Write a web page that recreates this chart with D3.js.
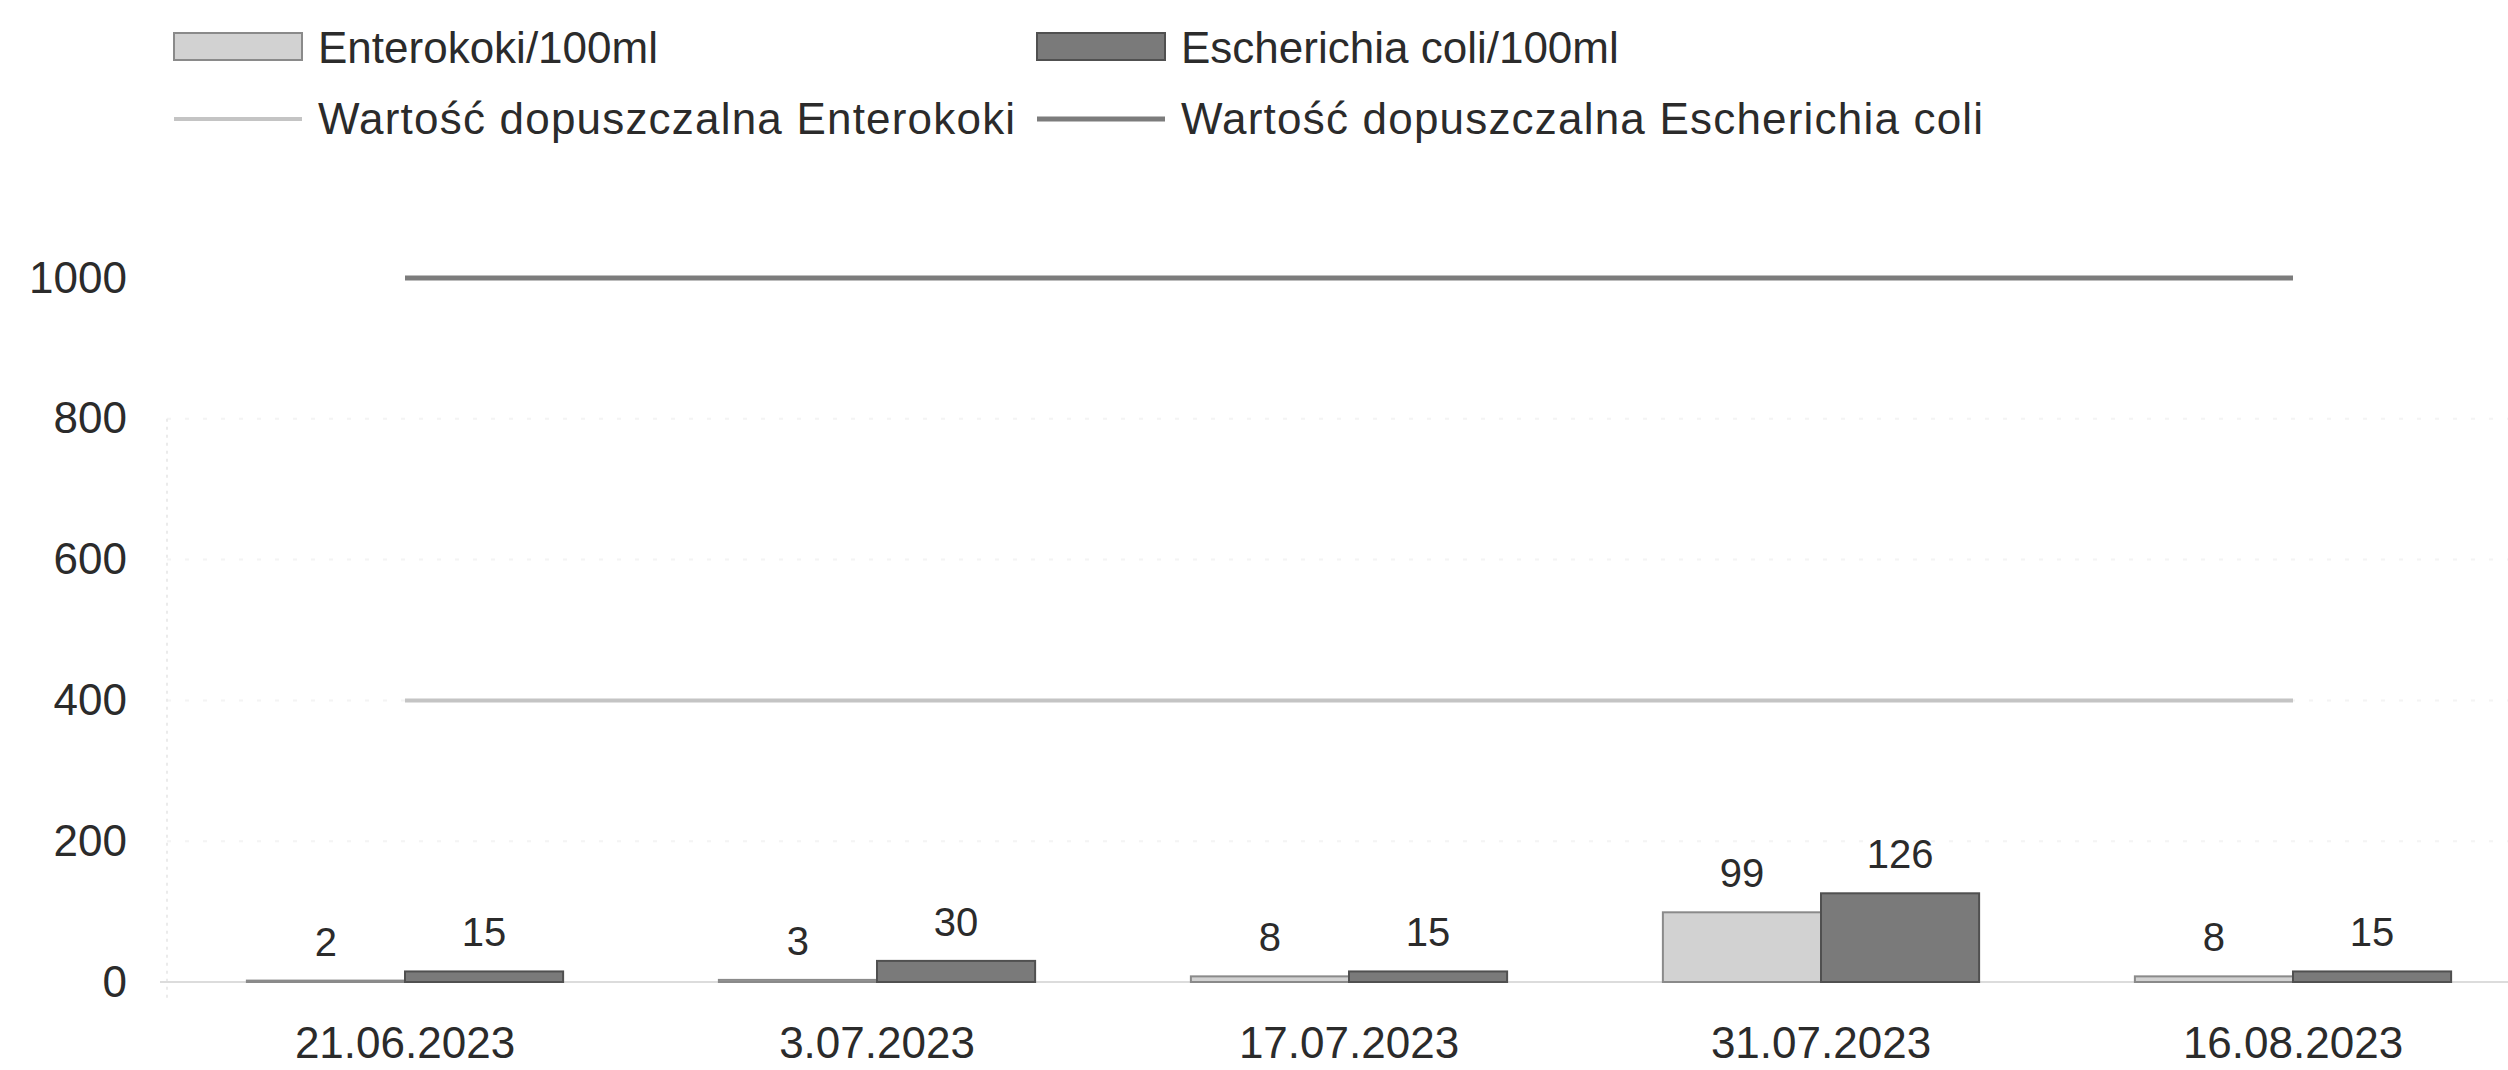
<!DOCTYPE html>
<html>
<head>
<meta charset="utf-8">
<script src="https://cdn.jsdelivr.net/npm/d3@7"></script>
<style>
  html, body { margin: 0; padding: 0; background: #fff; }
  svg { display: block; }
  text { font-family: "Liberation Sans", Arial, sans-serif; fill: #2b2b2b; }
</style>
</head>
<body>
<svg id="chart" width="2508" height="1070"></svg>
<script>
// ---- data ----
const categories = ["21.06.2023", "3.07.2023", "17.07.2023", "31.07.2023", "16.08.2023"];
const enterokoki = [2, 3, 8, 99, 8];
const ecoli = [15, 30, 15, 126, 15];
const limitEnterokoki = 400;
const limitEcoli = 1000;
const yTicks = [0, 200, 400, 600, 800, 1000];
const seriesNames = ["Enterokoki/100ml", "Escherichia coli/100ml"];
const limitNames = ["Wartość dopuszczalna Enterokoki", "Wartość dopuszczalna Escherichia coli"];

// ---- styles ----
const fills = ["#d2d2d2", "#7a7a7a"];
const strokes = ["#8a8a8a", "#505050"];
const limitColors = ["#c4c4c4", "#7c7c7c"];
const limitWidths = [4, 5];

const svg = d3.select("#chart");

const y = d3.scaleLinear().domain([0, 1000]).range([982, 278]);
const x0 = d3.scaleBand().domain(categories).range([169, 2529]).paddingInner(0.33).paddingOuter(0.165);
const x1 = d3.scaleBand().domain([0, 1]).range([0, x0.bandwidth()]);

// very faint gridlines
svg.append("g").selectAll("line").data(yTicks.filter(d => d > 0 && d < 1000)).join("line")
  .attr("x1", 167).attr("x2", 2508)
  .attr("y1", d => y(d)).attr("y2", d => y(d))
  .attr("stroke", "#f4f4f4").attr("stroke-width", 2).attr("stroke-dasharray", "4,14");
// faint left axis line
svg.append("line").attr("x1", 167).attr("x2", 167).attr("y1", y(800)).attr("y2", 998)
  .attr("stroke", "#ebebeb").attr("stroke-width", 2).attr("stroke-dasharray", "3,5");
// zero baseline
svg.append("line").attr("x1", 160).attr("x2", 2508).attr("y1", y(0)).attr("y2", y(0))
  .attr("stroke", "#dcdcdc").attr("stroke-width", 2);

// y axis labels via d3 axis
const yAxis = svg.append("g").attr("transform", "translate(127,0)")
  .call(d3.axisLeft(y).tickValues(yTicks).tickFormat(d3.format("d")).tickSize(0).tickPadding(0));
yAxis.select(".domain").remove();
yAxis.selectAll("text").style("font-size", "44px").attr("fill", "#2b2b2b")
  .style("font-family", "Liberation Sans, Arial, sans-serif");

// x axis labels via d3 axis
const xAxis = svg.append("g").attr("transform", "translate(0,1058)")
  .call(d3.axisBottom(x0).tickSize(0).tickPadding(0));
xAxis.select(".domain").remove();
xAxis.selectAll("text").style("font-size", "44px").attr("fill", "#2b2b2b")
  .style("font-family", "Liberation Sans, Arial, sans-serif").attr("y", 0).attr("dy", "0");

// bars
const rows = categories.map((c, i) => ({ c, vals: [enterokoki[i], ecoli[i]] }));
const groups = svg.append("g").selectAll("g").data(rows).join("g")
  .attr("transform", d => `translate(${x0(d.c)},0)`);
groups.selectAll("rect").data(d => d.vals.map((v, k) => ({ v, k }))).join("rect")
  .attr("x", d => x1(d.k)).attr("width", x1.bandwidth())
  .attr("y", d => y(d.v)).attr("height", d => y(0) - y(d.v))
  .attr("fill", d => fills[d.k]).attr("stroke", d => strokes[d.k]).attr("stroke-width", 2);
groups.selectAll("text").data(d => d.vals.map((v, k) => ({ v, k }))).join("text")
  .attr("x", d => x1(d.k) + x1.bandwidth() / 2)
  .attr("y", d => y(d.v) - 25)
  .attr("text-anchor", "middle").style("font-size", "40px")
  .text(d => d.v);

// limit lines (from first to last category centre)
const xs = categories.map(c => x0(c) + x0.bandwidth() / 2);
const limitLine = d3.line().x(d => d[0]).y(d => d[1]);
[[limitEnterokoki, 0], [limitEcoli, 1]].forEach(([lim, k]) => {
  svg.append("path")
    .attr("d", limitLine(xs.map(xv => [xv, y(lim)])))
    .attr("fill", "none").attr("stroke", limitColors[k]).attr("stroke-width", limitWidths[k]);
});

// legend
const legX = [174, 1037];
const lg = svg.append("g");
seriesNames.forEach((n, k) => {
  lg.append("rect").attr("x", legX[k]).attr("y", 33).attr("width", 128).attr("height", 27)
    .attr("fill", fills[k]).attr("stroke", strokes[k]).attr("stroke-width", 2);
  lg.append("text").attr("x", legX[k] + 144).attr("y", 63).style("font-size", "44px").text(n);
});
limitNames.forEach((n, k) => {
  lg.append("line").attr("x1", legX[k]).attr("x2", legX[k] + 128).attr("y1", 119).attr("y2", 119)
    .attr("stroke", limitColors[k]).attr("stroke-width", limitWidths[k]);
  lg.append("text").attr("x", legX[k] + 144).attr("y", 134).style("font-size", "44px")
    .style("letter-spacing", "1.2px").text(n);
});
</script>
</body>
</html>
